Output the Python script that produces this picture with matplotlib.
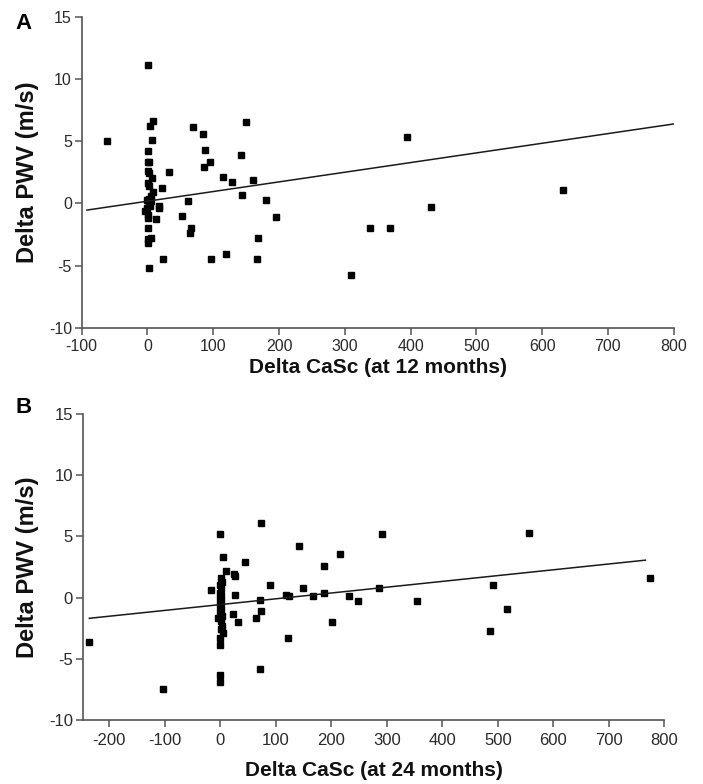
import matplotlib
matplotlib.use("Agg")
import matplotlib.pyplot as plt
import numpy as np

plt.rcParams['font.family'] = ['Liberation Sans', 'DejaVu Sans']
plt.rcParams['axes.unicode_minus'] = False

# Panel A: change in CaSc at 12 months vs change in PWV
casc_12 = [1, 8.6, 3.5, -62, 7.6, 1, 1.5, 3, 1, 2, 7, 1, 2, 9, 5, 3, 6, 2, -1, -3,
           1, 17, 18, 22, 33, 1, 13, 1, 6, 1, 1, 3, 24, 69, 85, 88, 95, 86, 61, 52,
           66, 64, 96, 115, 128, 142, 150, 144, 160, 180, 196, 168, 119, 166,
           395, 631, 431, 339, 368, 310, 0, 4]
pwv_12 = [11.1, 6.6, 6.2, 5.0, 5.1, 4.2, 3.3, 3.3, 2.6, 2.4, 2.0, 1.6, 1.4, 0.9, 0.6, 0.35, 0.15, 0.0, -0.4, -0.65,
          -0.9, -0.25, -0.4, 1.2, 2.5, -1.2, -1.3, -2.0, -2.8, -2.9, -3.2, -5.2, -4.5, 6.1, 5.6, 4.3, 3.3, 2.9, 0.2, -1.0,
          -2.0, -2.4, -4.5, 2.1, 1.7, 3.9, 6.5, 0.7, 1.9, 0.3, -1.1, -2.8, -4.1, -4.5,
          5.3, 1.1, -0.3, -2.0, -2.0, -5.8, 0.3, -0.2]
fit_12 = (0.17, 0.00776)       # intercept, slope
fit_12_span = (-92, 800)

# Panel B: change in CaSc at 24 months vs change in PWV
casc_24 = [-236, -103, -1, 5, 45, 10, 24, 27, 90, 74, 142, 149, -17, 27, 71, 118, 123, 23, 31, 65,
           74, -5, 122, 72, 0, 0, 0, 0, 167, 186, 187, 215, 202, 232, 248, 286, 292, 354, 492, 486,
           517, 556, 775,
           1, 3, 0, 1, 0, 2, 0, 1, 0, 2, 0, 3, 1, 3, 2, 4]
pwv_24 = [-3.6, -7.5, 5.2, 3.3, 2.9, 2.2, 1.9, 1.8, 1.0, 6.1, 4.2, 0.75, 0.6, 0.2, -0.2, 0.2, 0.15, -1.3, -2.0, -1.7,
          -1.1, -1.7, -3.3, -5.8, -3.3, -3.9, -6.3, -6.9, 0.1, 0.4, 2.6, 3.6, -2.0, 0.1, -0.3, 0.8, 5.2, -0.3, 1.0, -2.7,
          -0.9, 5.3, 1.6,
          1.6, 1.3, 1.0, 0.7, 0.4, 0.15, -0.1, -0.35, -0.6, -0.9, -1.2, -1.5, -1.9, -2.3, -2.6, -2.9]
fit_24 = (-0.57, 0.00474)
fit_24_span = (-236, 766)

fig = plt.figure(figsize=(7.03, 7.84), dpi=100)
ax_a = fig.add_axes([0.1162, 0.582, 0.8421, 0.3967])
ax_b = fig.add_axes([0.1176, 0.0816, 0.8273, 0.3903])

ink = '#1a1a1a'

def style(ax, xlim, xticks, xlabel, xpad, xlabelpad, tsize):
    ax.set_xlim(*xlim)
    ax.set_ylim(-10, 15)
    ax.set_xticks(xticks)
    ax.set_yticks([-10, -5, 0, 5, 10, 15])
    for s in ('top', 'right'):
        ax.spines[s].set_visible(False)
    for s in ('left', 'bottom'):
        ax.spines[s].set_color('#555555')
        ax.spines[s].set_linewidth(1.2)
    ax.tick_params(direction='out', length=5, width=1.1, colors='#555555',
                   labelsize=tsize, labelcolor='#2a2a2a')
    ax.tick_params(axis='x', pad=xpad)
    ax.tick_params(axis='y', pad=2)
    ax.set_xlabel(xlabel, fontsize=15, fontweight='bold', labelpad=xlabelpad, color='#111111')
    ax.set_ylabel('Delta PWV (m/s)', fontsize=17, fontweight='bold', labelpad=7, color='#111111')

def draw(ax, x, y, fit, span):
    ax.plot(x, y, linestyle='none', marker='s', ms=3.8, color='black', mec='black')
    xs = np.array(span, dtype=float)
    ax.plot(xs, fit[0] + fit[1] * xs, color=ink, lw=1.1)

draw(ax_a, casc_12, pwv_12, fit_12, fit_12_span)
style(ax_a, (-100, 800), list(range(-100, 801, 100)), 'Delta CaSc (at 12 months)', 3, 3, 11.5)

draw(ax_b, casc_24, pwv_24, fit_24, fit_24_span)
style(ax_b, (-248, 800), list(range(-200, 801, 100)), 'Delta CaSc (at 24 months)', 4, 10, 12)

fig.text(0.022, 0.970, 'A', fontsize=16, fontweight='bold', va='center')
fig.text(0.022, 0.480, 'B', fontsize=16, fontweight='bold', va='center')

fig.savefig('out.png', dpi=100)
